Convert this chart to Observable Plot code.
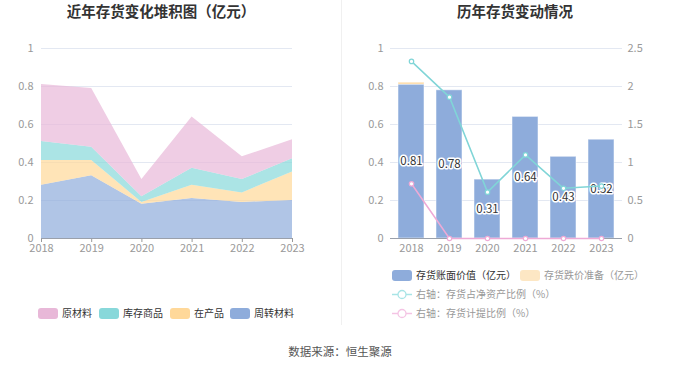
<!DOCTYPE html>
<html><head><meta charset="utf-8">
<script src="https://cdn.jsdelivr.net/npm/d3@7"></script>
<script src="https://cdn.jsdelivr.net/npm/@observablehq/plot@0.6"></script>
<style>
body{margin:0;background:#fff;}
#root{position:relative;width:680px;height:367px;font-family:"Noto Sans CJK SC","Noto Sans",sans-serif;overflow:hidden;background:#fff;}
.abs{position:absolute;}
.title{position:absolute;top:1px;font-size:14.5px;font-weight:bold;color:#333;transform:translateX(-50%);white-space:nowrap;line-height:20px;}
.leg{position:absolute;font-size:10px;line-height:12px;white-space:nowrap;display:flex;align-items:center;}
.sw{display:inline-block;width:20px;height:11px;border-radius:3px;margin-right:4px;}
.li{display:inline-block;width:20px;height:11px;margin-right:4px;}
svg{position:absolute;top:0;}
</style></head><body><div id="root"></div>
<script>
// ---- data ----
const years = [2018, 2019, 2020, 2021, 2022, 2023];
const stackNames = ["周转材料", "在产品", "库存商品", "原材料"];
const zhouzhuanCailiao = [0.28, 0.33, 0.18, 0.21, 0.19, 0.20];
const zaiChanPin = [0.13, 0.08, 0.01, 0.07, 0.05, 0.15];
const kucunShangpin = [0.10, 0.07, 0.03, 0.09, 0.07, 0.07];
const yuanCailiao = [0.30, 0.31, 0.09, 0.27, 0.12, 0.10];
const stackColors = ["#8eacdb", "#ffd899", "#88d8da", "#e8b8d8"];

const barNames = ["存货账面价值", "存货跌价准备"];
const bookValue = [0.81, 0.78, 0.31, 0.64, 0.43, 0.52];
const provision = [0.01, 0, 0, 0, 0, 0];
const netAssetRatio = [2.33, 1.86, 0.61, 1.10, 0.66, 0.69];
const provisionRatio = [0.72, 0, 0, 0, 0, 0];
const leftTicks = [0, 0.2, 0.4, 0.6, 0.8, 1];
const rightTicks = [0, 0.5, 1, 1.5, 2, 2.5];

const FONT = '"Noto Sans CJK SC","Noto Sans",sans-serif';
const root = document.getElementById("root");

// ---- left stacked area ----
const stackSeries = [zhouzhuanCailiao, zaiChanPin, kucunShangpin, yuanCailiao];
const areaData = [];
stackNames.forEach((name, i) => years.forEach((yr, j) => areaData.push({year: yr, type: name, value: stackSeries[i][j]})));

const left = Plot.plot({
  width: 340, height: 260,
  marginLeft: 41, marginRight: 48, marginTop: 48, marginBottom: 22,
  style: {fontSize: "11px", color: "#999", fontFamily: FONT, background: "transparent", overflow: "visible"},
  x: {type: "linear", domain: [2018, 2023], ticks: years, tickFormat: d => String(d), tickSize: 4, tickPadding: 2, label: null},
  y: {domain: [0, 1], ticks: leftTicks, tickFormat: d => String(d), tickSize: 0, tickPadding: 8, label: null},
  color: {domain: stackNames, range: stackColors},
  marks: [
    Plot.ruleY(leftTicks.slice(1), {stroke: "#e3e8f2"}),
    Plot.areaY(areaData, {x: "year", y: "value", fill: "type", fillOpacity: 0.7}),
    Plot.ruleY([0], {stroke: "#9aa0ab"})
  ]
});
left.style.left = "0px";
root.appendChild(left);

// ---- right bars ----
const barData = [];
years.forEach((yr, j) => {
  barData.push({year: String(yr), type: barNames[0], value: bookValue[j]});
  barData.push({year: String(yr), type: barNames[1], value: provision[j]});
});
const labelData = years.map((yr, j) => ({year: String(yr), value: bookValue[j]}));

const right = Plot.plot({
  width: 340, height: 260,
  marginLeft: 50, marginRight: 58, marginTop: 48, marginBottom: 22,
  style: {fontSize: "11px", color: "#999", fontFamily: FONT, background: "transparent", overflow: "visible"},
  x: {type: "band", domain: years.map(String), padding: 0, tickSize: 0, tickPadding: 6, label: null},
  y: {domain: [0, 1], ticks: leftTicks, tickFormat: d => String(d), tickSize: 0, tickPadding: 7, label: null},
  color: {domain: barNames, range: ["#8eacdb", "#fdd89e"]},
  marks: [
    Plot.ruleY(leftTicks.slice(1), {stroke: "#e3e8f2"}),
    Plot.barY(barData, {x: "year", y: "value", fill: "type", insetLeft: 6, insetRight: 6, stroke: "#fff", strokeOpacity: 0.5}),
    Plot.ruleY([0], {stroke: "#9aa0ab"}),
    Plot.text(labelData, {x: "year", y: d => d.value / 2, text: d => d.value.toFixed(2), fill: "#333", stroke: "#fff", strokeWidth: 3, fontSize: 11.5})
  ]
});
right.style.left = "340px";
root.appendChild(right);

// ---- right lines (right axis) ----
const lineData = [];
years.forEach((yr, j) => {
  lineData.push({year: String(yr), s: "net", value: netAssetRatio[j]});
});
const lineData2 = years.map((yr, j) => ({year: String(yr), s: "prov", value: provisionRatio[j]}));

const over = Plot.plot({
  width: 340, height: 260,
  marginLeft: 50, marginRight: 58, marginTop: 48, marginBottom: 22,
  style: {fontSize: "11px", color: "#999", fontFamily: FONT, background: "transparent", overflow: "visible"},
  x: {type: "point", domain: years.map(String), padding: 0.5, axis: null},
  y: {domain: [0, 2.5], ticks: rightTicks, tickFormat: d => String(d), axis: "right", tickSize: 0, tickPadding: 5, label: null},
  marks: [
    Plot.line(lineData2, {x: "year", y: "value", stroke: "#eeaad6", strokeWidth: 1.5}),
    Plot.dot(lineData2, {x: "year", y: "value", r: 2.2, fill: "#fff", stroke: "#eeaad6", strokeWidth: 1.2}),
    Plot.line(lineData, {x: "year", y: "value", stroke: "#80d5d7", strokeWidth: 1.5}),
    Plot.dot(lineData, {x: "year", y: "value", r: 2.2, fill: "#fff", stroke: "#80d5d7", strokeWidth: 1.2})
  ]
});
over.style.left = "340px";
root.appendChild(over);

// ---- html: titles, divider, legends, footer ----
function add(html) { root.insertAdjacentHTML("beforeend", html); }
add(`<div class="abs" style="left:341px;top:0;width:1px;height:325px;background:#f0f0f0"></div>`);
add(`<div class="title" style="left:161px">近年存货变化堆积图（亿元）</div>`);
add(`<div class="title" style="left:515px">历年存货变动情况</div>`);

const legLeftPos = [[38, "原材料", 3], [99, "库存商品", 2], [170, "在产品", 1], [230, "周转材料", 0]];
legLeftPos.forEach(([x, name, ci]) => {
  add(`<div class="leg" style="left:${x}px;top:307px;color:#333"><span class="sw" style="background:${stackColors[ci]}"></span>${name}</div>`);
});

add(`<div class="leg" style="left:392px;top:269px;color:#333"><span class="sw" style="background:#8eacdb"></span>存货账面价值（亿元）</div>`);
add(`<div class="leg" style="left:520px;top:269px;color:#999"><span class="sw" style="background:#fde7c4"></span>存货跌价准备（亿元）</div>`);
function lineIcon(c) {
  return `<svg class="li" style="position:static" width="20" height="11"><line x1="0" y1="5.5" x2="20" y2="5.5" stroke="${c}" stroke-width="1.5"/><circle cx="10" cy="5.5" r="4" fill="#fff" stroke="${c}" stroke-width="1.3"/></svg>`;
}
add(`<div class="leg" style="left:392px;top:288px;color:#999">${lineIcon("#a8e4e6")}右轴：存货占净资产比例（%）</div>`);
add(`<div class="leg" style="left:392px;top:307px;color:#999">${lineIcon("#f4c4e4")}右轴：存货计提比例（%）</div>`);

add(`<div class="abs" style="left:0;width:680px;top:343px;text-align:center;font-size:11.5px;color:#555;line-height:16px">数据来源：恒生聚源</div>`);
</script>
</body></html>
